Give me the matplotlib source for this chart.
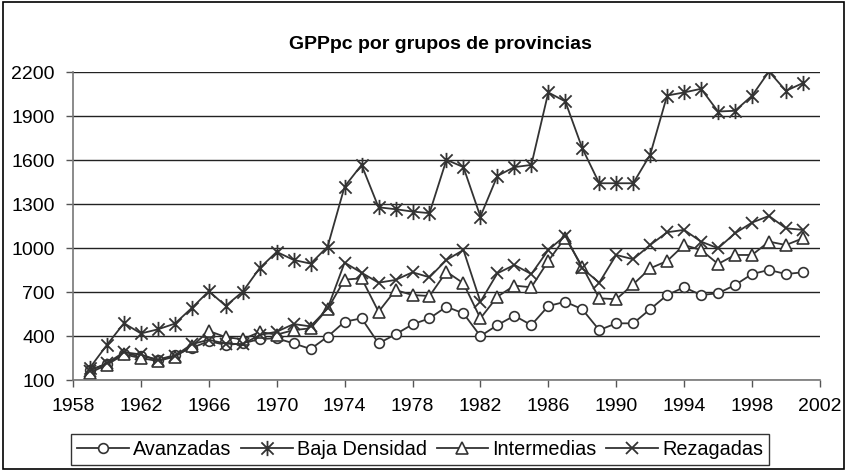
import matplotlib
matplotlib.use('Agg')
import matplotlib.pyplot as plt
from matplotlib.path import Path
from matplotlib.patches import Rectangle

years = list(range(1959, 2002))

avanzadas = [170, 210, 280, 265, 240, 270, 320, 365, 340, 350, 380, 385, 350, 312,
             396, 498, 521, 350, 412, 480, 521, 600, 555, 400, 475, 539, 475, 605,
             634, 583, 441, 487, 487, 583, 680, 733, 680, 692, 748, 823, 851, 823, 835]
baja_densidad = [185, 340, 488, 418, 446, 485, 592, 706, 606, 703, 864, 974, 919, 894,
                 1010, 1419, 1567, 1278, 1265, 1249, 1238, 1602, 1552, 1215, 1492, 1552, 1567, 2061,
                 2000, 1681, 1442, 1442, 1442, 1636, 2040, 2061, 2086, 1931, 1936, 2038, 2204, 2072, 2125]
intermedias = [150, 205, 275, 250, 230, 260, 330, 435, 393, 378, 428, 410, 441, 453,
               585, 785, 794, 566, 714, 680, 673, 839, 760, 521, 669, 744, 733, 912,
               1072, 873, 658, 651, 753, 862, 912, 1021, 987, 892, 953, 953, 1044, 1021, 1067]
rezagadas = [165, 215, 290, 275, 235, 265, 345, 375, 348, 346, 407, 430, 482, 466,
             589, 901, 832, 764, 783, 835, 801, 919, 987, 634, 828, 885, 823, 987,
             1085, 862, 764, 953, 924, 1021, 1108, 1124, 1044, 999, 1101, 1174, 1219, 1135, 1124]

x_ticks = list(range(1958, 2003, 4))
y_ticks = list(range(100, 2201, 300))

# asterisk marker like Excel's: an X plus a vertical bar
star = Path([(-1, -1), (1, 1), (-1, 1), (1, -1), (0, -1.25), (0, 1.25)],
            [Path.MOVETO, Path.LINETO, Path.MOVETO, Path.LINETO, Path.MOVETO, Path.LINETO])

plt.rcParams['font.family'] = ['Liberation Sans', 'DejaVu Sans']

fig = plt.figure(figsize=(8.47, 4.71), dpi=100)
ax = fig.add_axes([0.0862, 0.193, 0.8818, 0.654])

col = '#333333'
ax.plot(years, avanzadas, color=col, lw=1.3, marker='o', ms=7, mfc='white', mec=col, mew=1.2, label='Avanzadas')
ax.plot(years, baja_densidad, color=col, lw=1.3, marker=star, ms=11, mec=col, mew=1.3, label='Baja Densidad')
ax.plot(years, intermedias, color=col, lw=1.3, marker='^', ms=8, mfc='white', mec=col, mew=1.2, label='Intermedias')
ax.plot(years, rezagadas, color=col, lw=1.3, marker='x', ms=9, mec=col, mew=1.3, label='Rezagadas')

ax.set_xlim(1958, 2002)
ax.set_ylim(100, 2200)
ax.set_xticks(x_ticks)
ax.set_yticks(y_ticks)
ax.tick_params(labelsize=14, length=5, width=1, color='#555555', pad=8)
ax.yaxis.grid(True, color='#222222', lw=1)
ax.set_axisbelow(True)
for s in ['top', 'right']:
    ax.spines[s].set_visible(False)
for s in ['left', 'bottom']:
    ax.spines[s].set_color('#777777')
    ax.spines[s].set_linewidth(1.2)

fig.text(0.52, 0.905, 'GPPpc por grupos de provincias', ha='center', va='center',
         fontsize=14, fontweight='bold')

leg = fig.legend(loc='center', bbox_to_anchor=(0.496, 0.045), ncol=4, fontsize=14.3,
                 frameon=True, fancybox=False, edgecolor='black', handlelength=2.6,
                 columnspacing=0.5, handletextpad=0.2, borderpad=0.3)
leg.get_frame().set_linewidth(1)

fig.patches.append(Rectangle((0.003, 0.004), 0.994, 0.992, transform=fig.transFigure,
                             fill=False, edgecolor='black', lw=1.2))

fig.savefig('out.png', dpi=100)
